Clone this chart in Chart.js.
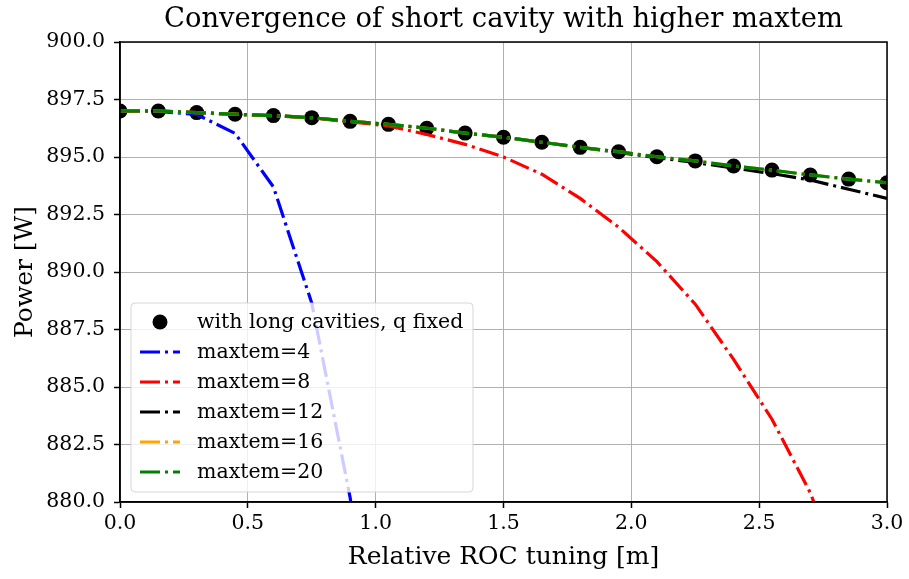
<!DOCTYPE html>
<html>
<head>
<meta charset="utf-8">
<script src="https://cdn.jsdelivr.net/npm/chart.js@4.4.1/dist/chart.umd.min.js"></script>
<style>
  body { margin: 0; background: #fff; }
  #wrap { width: 909px; height: 579px; }
</style>
</head>
<body>
<div id="wrap"><canvas id="chart" width="909" height="579"></canvas></div>
<script>
// relative ROC tuning [m]
const roc = [0, 0.15, 0.3, 0.45, 0.6, 0.75, 0.9, 1.05, 1.2, 1.35, 1.5,
             1.65, 1.8, 1.95, 2.1, 2.25, 2.4, 2.55, 2.7, 2.85, 3.0];

// power [W]
const longCav = [897.0, 897.0, 896.93, 896.86, 896.8, 896.71, 896.55, 896.42, 896.25, 896.04, 895.86,
                 895.64, 895.42, 895.23, 895.01, 894.83, 894.61, 894.43, 894.22, 894.04, 893.88];
const maxtem4 = [897.0, 896.98, 896.85, 896.03, 893.7, 888.65, 880.2, 869.0, null, null, null,
                 null, null, null, null, null, null, null, null, null, null];
const maxtem8 = [897.0, 897.0, 896.93, 896.86, 896.8, 896.7, 896.53, 896.35, 895.98, 895.55, 895.0,
                 894.25, 893.2, 891.95, 890.45, 888.6, 886.2, 883.6, 880.4, 876.0, 871.0];
const maxtem12 = [897.0, 897.0, 896.93, 896.86, 896.8, 896.71, 896.55, 896.42, 896.25, 896.04, 895.86,
                  895.64, 895.42, 895.2, 894.97, 894.76, 894.52, 894.28, 894.0, 893.6, 893.2];
const maxtem16 = [897.0, 897.0, 896.93, 896.86, 896.8, 896.71, 896.55, 896.42, 896.25, 896.04, 895.86,
                  895.64, 895.42, 895.23, 895.01, 894.83, 894.61, 894.43, 894.22, 894.04, 893.88];
const maxtem20 = [897.0, 897.0, 896.93, 896.86, 896.8, 896.71, 896.55, 896.42, 896.25, 896.04, 895.86,
                  895.64, 895.42, 895.23, 895.01, 894.83, 894.61, 894.43, 894.22, 894.04, 893.88];

const titleText = "Convergence of short cavity with higher maxtem";
const serif = "'DejaVu Serif', serif";
const dashDot = [20, 5, 3, 5];

function pts(ys) {
  return roc.map((x, i) => ({ x: x, y: ys[i] }));
}

function lineSet(label, ys, color, order) {
  return {
    label: label,
    data: pts(ys),
    borderColor: color,
    backgroundColor: color,
    borderWidth: 3.2,
    borderDash: dashDot,
    pointRadius: 0,
    tension: 0,
    spanGaps: false,
    clip: 0,
    order: order,
  };
}

// matplotlib-style legend inside the axes, title centred over the axes, full frame
const axLegend = {
  id: "axLegend",
  afterDatasetsDraw(chart) {
    const ctx = chart.ctx;
    const a = chart.chartArea;
    const bx = a.left + 11, by = a.bottom - 199, bw = 342, bh = 189;
    ctx.save();
    ctx.beginPath();
    ctx.roundRect(bx, by, bw, bh, 4);
    ctx.fillStyle = "rgba(255,255,255,0.8)";
    ctx.fill();
    ctx.strokeStyle = "rgba(204,204,204,0.8)";
    ctx.lineWidth = 1;
    ctx.stroke();
    ctx.font = "20.5px " + serif;
    ctx.textBaseline = "middle";
    chart.data.datasets.forEach((ds, i) => {
      const cy = by + 19 + i * 30;
      if (ds.pointRadius > 0) {
        ctx.beginPath();
        ctx.arc(bx + 29, cy, 7.5, 0, Math.PI * 2);
        ctx.fillStyle = ds.backgroundColor;
        ctx.fill();
      } else {
        ctx.beginPath();
        ctx.setLineDash(dashDot);
        ctx.moveTo(bx + 9, cy);
        ctx.lineTo(bx + 49, cy);
        ctx.strokeStyle = ds.borderColor;
        ctx.lineWidth = 3.2;
        ctx.stroke();
        ctx.setLineDash([]);
      }
      ctx.fillStyle = "#000";
      ctx.fillText(ds.label, bx + 66, cy + 1);
    });
    ctx.restore();
  },
  afterDraw(chart) {
    const ctx = chart.ctx;
    const a = chart.chartArea;
    ctx.save();
    ctx.strokeStyle = "#000";
    ctx.lineWidth = 1.5;
    ctx.strokeRect(a.left, a.top, a.right - a.left, a.bottom - a.top);
    ctx.font = "27.4px " + serif;
    ctx.fillStyle = "#000";
    ctx.textAlign = "center";
    ctx.textBaseline = "middle";
    ctx.fillText(titleText, (a.left + a.right) / 2, 20);
    ctx.restore();
  },
};

new Chart(document.querySelector("#chart").getContext("2d"), {
  type: "line",
  data: {
    datasets: [
      {
        label: "with long cavities, q fixed",
        data: pts(longCav),
        showLine: false,
        pointRadius: 7.5,
        pointHoverRadius: 7.5,
        pointBorderWidth: 0,
        backgroundColor: "#000",
        borderColor: "#000",
        clip: 0,
        order: 6,
      },
      lineSet("maxtem=4", maxtem4, "#0000ff", 5),
      lineSet("maxtem=8", maxtem8, "#ff0000", 4),
      lineSet("maxtem=12", maxtem12, "#000000", 3),
      lineSet("maxtem=16", maxtem16, "#ffa500", 2),
      lineSet("maxtem=20", maxtem20, "#008000", 1),
    ],
  },
  options: {
    responsive: false,
    animation: false,
    layout: { padding: { left: 0, right: 22, top: 42, bottom: 0 } },
    plugins: {
      legend: { display: false },
      tooltip: { enabled: false },
      title: { display: false },
    },
    scales: {
      x: {
        type: "linear",
        min: 0,
        max: 3,
        afterFit(s) { s.height = 77; },
        ticks: {
          stepSize: 0.5,
          color: "#000",
          padding: 3,
          font: { family: serif, size: 20.5 },
          callback: (v) => v.toFixed(1),
        },
        grid: { color: "#b0b0b0", lineWidth: 1, tickLength: 6, tickColor: "#000", tickWidth: 1.5 },
        border: { display: true, color: "#000", width: 1.5 },
        title: {
          display: true,
          text: "Relative ROC tuning [m]",
          color: "#000",
          font: { family: serif, size: 25 },
          padding: { top: 0, bottom: 7 },
        },
      },
      y: {
        min: 880,
        max: 900,
        afterFit(s) { s.width = 120; },
        ticks: {
          stepSize: 2.5,
          color: "#000",
          padding: 9,
          font: { family: serif, size: 20.5 },
          callback: (v) => v.toFixed(1),
        },
        grid: { color: "#b0b0b0", lineWidth: 1, tickLength: 6, tickColor: "#000", tickWidth: 1.5 },
        border: { display: true, color: "#000", width: 1.5 },
        title: {
          display: true,
          text: "Power [W]",
          color: "#000",
          font: { family: serif, size: 25 },
          padding: { top: 10, bottom: 0 },
        },
      },
    },
  },
  plugins: [axLegend],
});
</script>
</body>
</html>
